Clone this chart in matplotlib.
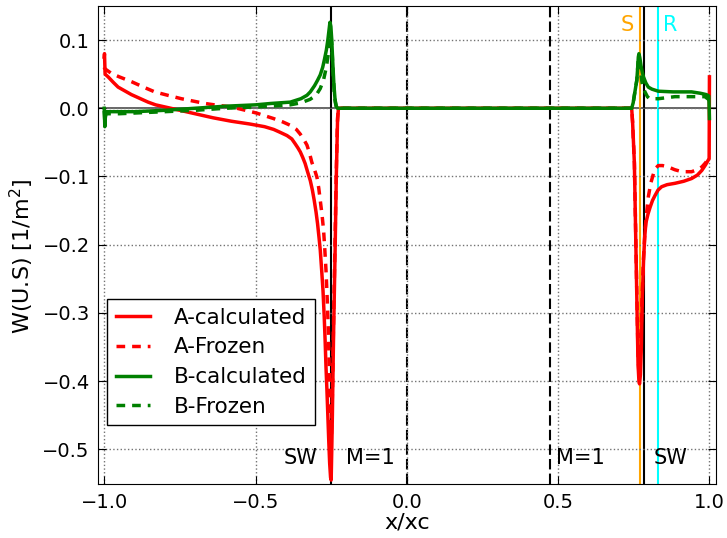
import matplotlib
matplotlib.use('Agg')
import matplotlib.pyplot as plt

# ---- data ----
# A-calculated (red solid)
xa_calc = [-1.0, -0.999, -0.997, -0.987, -0.97, -0.954, -0.93, -0.91, -0.88, -0.855,
           -0.83, -0.8, -0.77, -0.74, -0.69, -0.64, -0.58, -0.52, -0.47, -0.44,
           -0.42, -0.396, -0.38, -0.369, -0.36, -0.352, -0.344, -0.336, -0.328, -0.319,
           -0.312, -0.306, -0.3, -0.295, -0.29, -0.286, -0.281, -0.277, -0.273, -0.27,
           -0.267, -0.264, -0.261, -0.258, -0.255, -0.252, -0.25, -0.248, -0.246, -0.242,
           -0.237, -0.233, -0.229, -0.226, 0.0, 0.5, 0.743, 0.746, 0.749, 0.752,
           0.756, 0.76, 0.764, 0.767, 0.769, 0.772, 0.775, 0.778, 0.782, 0.786,
           0.79, 0.797, 0.804, 0.812, 0.82, 0.83, 0.842, 0.86, 0.886, 0.915,
           0.941, 0.96, 0.975, 0.987, 0.996, 0.999, 1.0]
ya_calc = [0.075, 0.08, 0.05, 0.046, 0.038, 0.031, 0.025, 0.02, 0.014, 0.009,
           0.005, 0.002, -0.001, -0.004, -0.009, -0.014, -0.019, -0.023, -0.027, -0.031,
           -0.035, -0.04, -0.045, -0.052, -0.058, -0.064, -0.072, -0.081, -0.093, -0.106,
           -0.12, -0.135, -0.152, -0.169, -0.19, -0.208, -0.24, -0.267, -0.305, -0.34,
           -0.38, -0.413, -0.45, -0.487, -0.52, -0.541, -0.545, -0.5, -0.45, -0.33,
           -0.21, -0.1, -0.02, 0.0, 0.0, 0.0, 0.0, -0.02, -0.05, -0.081,
           -0.179, -0.277, -0.374, -0.4, -0.404, -0.39, -0.35, -0.28, -0.225, -0.19,
           -0.168, -0.155, -0.145, -0.135, -0.128, -0.12, -0.115, -0.112, -0.11, -0.107,
           -0.103, -0.098, -0.091, -0.083, -0.076, -0.074, 0.046]

# A-Frozen (red dashed)
xa_froz = [-1.0, -0.998, -0.976, -0.95, -0.91, -0.87, -0.833, -0.79, -0.745, -0.7,
           -0.667, -0.62, -0.58, -0.524, -0.497, -0.469, -0.441, -0.41, -0.385, -0.365,
           -0.352, -0.34, -0.33, -0.322, -0.314, -0.305, -0.297, -0.291, -0.286, -0.28,
           -0.275, -0.271, -0.267, -0.263, -0.259, -0.256, -0.253, -0.251, -0.249, -0.246,
           -0.242, -0.237, -0.233, -0.229, -0.226, 0.0, 0.5, 0.743, 0.746, 0.749,
           0.752, 0.756, 0.76, 0.764, 0.767, 0.77, 0.774, 0.778, 0.782, 0.787,
           0.792, 0.798, 0.806, 0.815, 0.822, 0.831, 0.845, 0.864, 0.885, 0.909,
           0.941, 0.96, 0.975, 0.987, 0.996, 1.0]
ya_froz = [0.06, 0.058, 0.051, 0.046, 0.039, 0.031, 0.024, 0.019, 0.014, 0.01,
           0.007, 0.004, 0.002, -0.004, -0.007, -0.011, -0.015, -0.02, -0.025, -0.031,
           -0.038, -0.046, -0.054, -0.065, -0.079, -0.09, -0.101, -0.117, -0.135, -0.157,
           -0.179, -0.207, -0.238, -0.28, -0.33, -0.39, -0.45, -0.49, -0.48, -0.42,
           -0.31, -0.19, -0.09, -0.015, 0.0, 0.0, 0.0, 0.0, -0.02, -0.05,
           -0.08, -0.175, -0.27, -0.36, -0.39, -0.385, -0.33, -0.27, -0.22, -0.18,
           -0.155, -0.13, -0.11, -0.096, -0.088, -0.084, -0.084, -0.086, -0.09, -0.093,
           -0.093, -0.09, -0.086, -0.08, -0.074, -0.07]

# B-calculated (green solid)
xb_calc = [-1.0, -0.999, -0.998, -0.996, -0.993, -0.95, -0.9, -0.8, -0.7, -0.6,
           -0.55, -0.5, -0.45, -0.385, -0.35, -0.33, -0.319, -0.305, -0.295, -0.286,
           -0.278, -0.272, -0.266, -0.261, -0.257, -0.254, -0.251, -0.248, -0.245, -0.241,
           -0.237, -0.233, -0.229, 0.0, 0.5, 0.743, 0.748, 0.753, 0.757, 0.76,
           0.763, 0.765, 0.767, 0.77, 0.774, 0.778, 0.782, 0.79, 0.798, 0.81,
           0.831, 0.88, 0.941, 0.97, 0.99, 0.998, 1.0]
yb_calc = [0.0, -0.01, -0.027, -0.012, -0.005, -0.005, -0.005, -0.003, 0.0, 0.003,
           0.004, 0.005, 0.007, 0.009, 0.014, 0.019, 0.024, 0.033, 0.041, 0.049,
           0.06, 0.072, 0.085, 0.1, 0.115, 0.126, 0.12, 0.1, 0.07, 0.035,
           0.012, 0.003, 0.0, 0.0, 0.0, 0.0, 0.008, 0.022, 0.033, 0.041,
           0.06, 0.075, 0.08, 0.074, 0.062, 0.053, 0.046, 0.037, 0.031, 0.028,
           0.025, 0.024, 0.024, 0.022, 0.02, 0.018, -0.015]

# B-Frozen (green dashed)
xb_froz = [-1.0, -0.998, -0.995, -0.95, -0.9, -0.8, -0.7, -0.6, -0.5, -0.45,
           -0.385, -0.35, -0.32, -0.3, -0.286, -0.275, -0.266, -0.26, -0.256, -0.253,
           -0.25, -0.247, -0.244, -0.24, -0.236, -0.232, 0.0, 0.5, 0.743, 0.748,
           0.753, 0.757, 0.76, 0.763, 0.765, 0.767, 0.77, 0.774, 0.778, 0.782,
           0.787, 0.795, 0.802, 0.831, 0.886, 0.985, 1.0]
yb_froz = [-0.004, -0.02, -0.008, -0.008, -0.007, -0.005, -0.003, 0.0, 0.002, 0.003,
           0.005, 0.008, 0.013, 0.019, 0.029, 0.042, 0.06, 0.078, 0.095, 0.108,
           0.105, 0.085, 0.055, 0.025, 0.008, 0.0, 0.0, 0.0, 0.0, 0.008,
           0.022, 0.033, 0.041, 0.06, 0.072, 0.075, 0.065, 0.048, 0.036, 0.029,
           0.024, 0.017, 0.014, 0.014, 0.017, 0.017, 0.012]

# marker lines
x_sw = [-0.25, 0.785]
x_m1 = [0.0, 0.472]
x_s = 0.772
x_r = 0.83

plt.rcParams['font.family'] = 'DejaVu Sans'
plt.rcParams['font.size'] = 14

fig = plt.figure(figsize=(7.27, 5.38), dpi=100)
ax = fig.add_axes([0.135, 0.1, 0.85, 0.889])

ax.axhline(0.0, color='0.3', lw=1.2, zorder=1)
for xv in x_sw:
    ax.axvline(xv, color='k', lw=1.5, zorder=1)
for xv in x_m1:
    ax.axvline(xv, color='k', lw=1.5, ls=(0, (5, 2)), zorder=1)
ax.axvline(x_s, color='orange', lw=1.5, zorder=1)
ax.axvline(x_r, color='cyan', lw=1.5, zorder=1)

ax.plot(xa_calc, ya_calc, color='red', lw=2.5, label='A-calculated')
ax.plot(xa_froz, ya_froz, color='red', lw=2.5, dashes=(2.5, 2), label='A-Frozen')
ax.plot(xb_calc, yb_calc, color='green', lw=2.5, label='B-calculated')
ax.plot(xb_froz, yb_froz, color='green', lw=2.5, dashes=(2.5, 2), label='B-Frozen')

ax.text(-0.352, -0.513, 'SW', ha='center', va='center', fontsize=15)
ax.text(-0.12, -0.513, 'M=1', ha='center', va='center', fontsize=15)
ax.text(0.573, -0.513, 'M=1', ha='center', va='center', fontsize=15)
ax.text(0.873, -0.513, 'SW', ha='center', va='center', fontsize=15)
ax.text(0.729, 0.122, 'S', color='orange', ha='center', va='center', fontsize=15)
ax.text(0.87, 0.122, 'R', color='cyan', ha='center', va='center', fontsize=15)

ax.set_xlim(-1.02, 1.022)
ax.set_ylim(-0.551, 0.15)
ax.set_xticks([-1.0, -0.5, 0.0, 0.5, 1.0])
ax.set_yticks([-0.5, -0.4, -0.3, -0.2, -0.1, 0.0, 0.1])
ax.tick_params(direction='in', top=True, right=True, length=6, labelsize=14, pad=6)
ax.grid(True, color='0.45', ls=':', lw=1)
ax.set_xlabel('x/xc', fontsize=16, labelpad=1)
ax.set_ylabel('W(U.S) [1/m$^2$]', fontsize=16)
ax.yaxis.set_label_coords(-0.1, 0.477)

leg = ax.legend(loc='lower left', bbox_to_anchor=(0.0146, 0.123), borderaxespad=0,
                fancybox=False, framealpha=1, edgecolor='k', fontsize=15.5,
                handlelength=1.6, handletextpad=1.1, labelspacing=0.45)
leg.get_frame().set_linewidth(1)

fig.savefig('out.png', dpi=100)
